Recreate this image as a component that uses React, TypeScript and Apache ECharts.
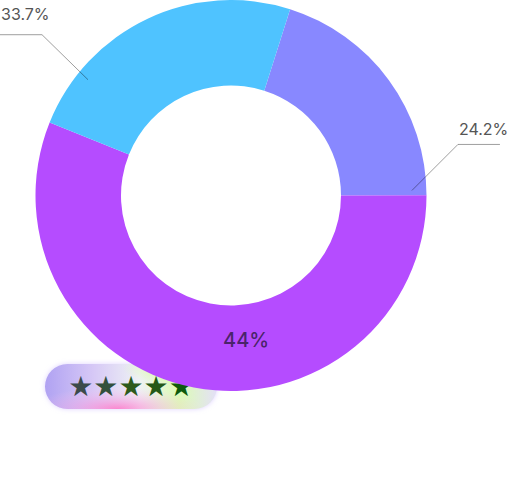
import React, { useEffect, useRef } from "react";
import * as echarts from "echarts";

// ---- data ----
const sliceNames = ["24.2%", "44%", "33.7%"];
const sliceValues = [20.1, 56.1, 23.8];
const ratingStars = ["★", "★", "★", "★", "★"];

// ---- styles / layout ----
const SLICE_COLORS = ["#8888ff", "#b54cff", "#4fc3ff"];
const STAR_COLORS = ["#3c4a4b", "#33503c", "#2d5a1d", "#245816", "#0d5a0d"];
const CENTER = [231, 195.5];
const RADIUS = [110, 195.5];

type Guide =
  | { kind: "inside"; angle: number; r: number }
  | { kind: "outside"; angle: number; r: number; leg: [number, number]; tail: number; lift: number };

const GUIDES: Guide[] = [
  { kind: "outside", angle: 88.4, r: 181, leg: [46, -46], tail: 42, lift: 15 },
  { kind: "inside", angle: 174, r: 145 },
  { kind: "outside", angle: 309, r: 184, leg: [-46, -45], tail: -42, lift: 21 },
];

const FONT = "Inter, 'Noto Sans', sans-serif";

export default function App() {
  const ref = useRef<HTMLDivElement>(null);

  useEffect(() => {
    document.body.style.margin = "0";
    if (!ref.current) return;
    const chart = echarts.init(ref.current, undefined, { renderer: "svg" });

    const labelLayout = (params: any) => {
      const g = GUIDES[params.dataIndex];
      const rad = (g.angle * Math.PI) / 180;
      const ax = CENTER[0] + g.r * Math.sin(rad);
      const ay = CENTER[1] - g.r * Math.cos(rad);
      if (g.kind === "inside") {
        return { x: ax, y: ay, align: "center", verticalAlign: "middle" };
      }
      const ex = ax + g.leg[0];
      const ey = ay + g.leg[1];
      const tx = ex + g.tail;
      return {
        x: Math.min(ex, tx) + 1,
        y: ey - g.lift,
        align: "left",
        verticalAlign: "middle",
        labelLinePoints: [
          [ax, ay],
          [ex, ey],
          [tx, ey],
        ],
      };
    };

    const sliceData = sliceNames.map((name, i) => ({
      name,
      value: sliceValues[i],
      itemStyle: { color: SLICE_COLORS[i] },
    }));

    const labelData = sliceNames.map((name, i) => {
      const inside = GUIDES[i].kind === "inside";
      return {
        name,
        value: sliceValues[i],
        itemStyle: { color: "rgba(0,0,0,0)" },
        label: inside
          ? {
              position: "inside",
              fontSize: 20,
              fontWeight: 500,
              color: "rgba(45,25,65,0.8)",
              fontFamily: FONT,
            }
          : {
              position: "outside",
              fontSize: 16,
              color: "#555555",
              fontFamily: FONT,
            },
        labelLine: { show: !inside },
      };
    });

    const rich: Record<string, any> = {};
    ratingStars.forEach((_, i) => {
      rich["s" + i] = {
        fill: STAR_COLORS[i],
        fontSize: 28,
        fontFamily: "'DejaVu Sans'",
      };
    });
    const starText = ratingStars.map((s, i) => `{s${i}|${s}}`).join("");

    const badgeShape = { x: 0, y: 0, width: 172, height: 45, r: 22.5 };

    chart.setOption({
      animation: false,
      series: [
        {
          type: "pie",
          z: 2,
          center: CENTER,
          radius: RADIUS,
          startAngle: 72.4,
          clockwise: true,
          silent: true,
          label: { show: false },
          labelLine: { show: false },
          emphasis: { disabled: true },
          data: sliceData,
        },
        {
          type: "pie",
          z: 3,
          center: CENTER,
          radius: RADIUS,
          startAngle: 72.4,
          clockwise: true,
          avoidLabelOverlap: false,
          silent: true,
          label: { show: true, formatter: "{b}" },
          labelLine: {
            show: true,
            lineStyle: { color: "rgba(0,0,0,0.38)", width: 1 },
          },
          labelLayout,
          emphasis: { disabled: true },
          data: labelData,
        },
      ],
      graphic: [
        {
          type: "group",
          left: 45,
          top: 364,
          z: 10,
          children: [
            {
              type: "rect",
              shape: badgeShape,
              style: {
                fill: new echarts.graphic.LinearGradient(0, 0, 1, 0, [
                  { offset: 0, color: "#b0a2f2" },
                  { offset: 0.28, color: "#d6c8f6" },
                  { offset: 0.55, color: "#eef2f4" },
                  { offset: 0.78, color: "#dcfcb4" },
                  { offset: 1, color: "#e4e0f8" },
                ]),
                shadowBlur: 5,
                shadowColor: "rgba(200,180,255,0.6)",
              },
            },
            {
              type: "rect",
              shape: badgeShape,
              style: {
                fill: new echarts.graphic.RadialGradient(0.42, 1, 0.5, [
                  { offset: 0, color: "rgba(255,120,200,0.85)" },
                  { offset: 0.5, color: "rgba(250,160,225,0.4)" },
                  { offset: 1, color: "rgba(255,200,240,0)" },
                ]),
              },
            },
            {
              type: "rect",
              shape: badgeShape,
              style: {
                fill: new echarts.graphic.RadialGradient(0.8, 0.1, 0.35, [
                  { offset: 0, color: "rgba(215,255,150,0.85)" },
                  { offset: 1, color: "rgba(215,255,150,0)" },
                ]),
              },
            },
            {
              type: "text",
              x: 86,
              y: 22,
              style: {
                text: starText,
                rich,
                align: "center",
                verticalAlign: "middle",
              },
            },
          ],
        },
      ],
    });

    return () => chart.dispose();
  }, []);

  return <div ref={ref} style={{ width: 508, height: 491 }} />;
}
